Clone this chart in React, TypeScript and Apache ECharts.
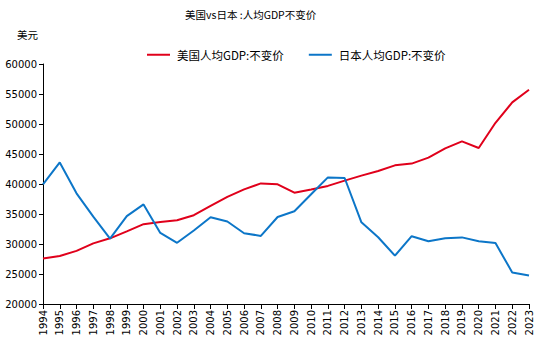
import React, { useEffect, useRef } from "react";
import * as echarts from "echarts";

const years = ["1994","1995","1996","1997","1998","1999","2000","2001","2002","2003","2004","2005","2006","2007","2008","2009","2010","2011","2012","2013","2014","2015","2016","2017","2018","2019","2020","2021","2022","2023"];
const usGdp = [27600,28000,28850,30100,30950,32100,33300,33650,33950,34800,36350,37850,39100,40100,39950,38550,39100,39680,40560,41390,42170,43110,43400,44400,45950,47100,46000,50200,53600,55700];
const jpGdp = [39950,43600,38450,34550,30900,34650,36600,31850,30200,32250,34450,33750,31800,31350,34500,35450,38300,41100,41000,33620,31120,28050,31300,30450,30950,31100,30450,30150,25250,24750];
const yTicks = { min: 20000, max: 60000, interval: 5000 };
const seriesNames = ["美国人均GDP:不变价", "日本人均GDP:不变价"];
const titleText = "美国vs日本 :人均GDP不变价";
const unitText = "美元";

const CJK = "'Noto Sans CJK SC', 'Noto Sans', sans-serif";
const NUM = "'DejaVu Sans', Verdana, sans-serif";

export default function App() {
  const ref = useRef<HTMLDivElement>(null);
  useEffect(() => {
    const chart = echarts.init(ref.current!, null, { renderer: "svg" });
    chart.setOption({
      animation: false,
      backgroundColor: "#ffffff",
      title: {
        text: titleText,
        left: 180,
        top: 4,
        textStyle: { fontSize: 10.5, fontWeight: "normal", color: "#000", fontFamily: CJK },
      },
      graphic: [
        {
          type: "text",
          left: 17,
          top: 29,
          style: { text: unitText, fontSize: 10.5, fill: "#000", fontFamily: CJK },
        },
      ],
      legend: {
        top: 44,
        left: 142,
        itemWidth: 23,
        itemHeight: 2,
        itemGap: 25,
        icon: "rect",
        textStyle: { fontSize: 11.5, color: "#000", fontFamily: CJK, padding: [0, 0, 0, 2] },
        data: seriesNames,
      },
      grid: { left: 43, right: 14, top: 64, bottom: 47, containLabel: false },
      xAxis: {
        type: "category",
        data: years,
        boundaryGap: false,
        axisLine: { lineStyle: { color: "#000", width: 1 } },
        axisTick: { show: true, length: 5, alignWithLabel: true, lineStyle: { color: "#000" } },
        axisLabel: { rotate: 90, interval: 0, fontSize: 10, color: "#000", fontFamily: NUM, margin: 6 },
        splitLine: { show: false },
      },
      yAxis: {
        type: "value",
        min: yTicks.min,
        max: yTicks.max,
        interval: yTicks.interval,
        axisLine: { show: true, lineStyle: { color: "#000", width: 1 } },
        axisTick: { show: true, length: 4, lineStyle: { color: "#000" } },
        axisLabel: { fontSize: 10, color: "#000", fontFamily: NUM, margin: 6, formatter: (v: number) => String(v) },
        splitLine: { show: false },
      },
      series: [
        {
          name: seriesNames[0],
          type: "line",
          data: usGdp,
          symbol: "none",
          lineStyle: { color: "#E0001B", width: 2 },
          itemStyle: { color: "#E0001B" },
        },
        {
          name: seriesNames[1],
          type: "line",
          data: jpGdp,
          symbol: "none",
          lineStyle: { color: "#0C76C8", width: 2 },
          itemStyle: { color: "#0C76C8" },
        },
      ],
    });
    return () => chart.dispose();
  }, []);
  return <div ref={ref} style={{ width: 543, height: 351, position: "absolute", left: 0, top: 0 }} />;
}
